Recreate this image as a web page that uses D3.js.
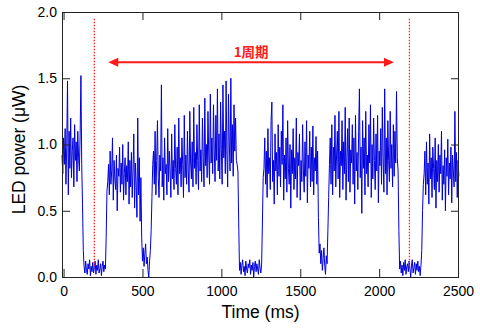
<!DOCTYPE html>
<html>
<head>
<meta charset="utf-8">
<script src="https://cdn.jsdelivr.net/npm/d3@7"></script>
<style>
  html, body { margin: 0; padding: 0; background: #fff; }
  svg { display: block; }
  text { font-family: "Liberation Sans", Arial, Helvetica, sans-serif; fill: #000; }
</style>
</head>
<body>
<svg id="chart" width="480" height="329"></svg>
<script>
// ---------- data ----------
const sampleStart = -10;  // ms, time of first sample
const sampleStep = 5;     // ms between samples
const power = [
  // on (-10 .. 115 ms)
  0.92, 0.78, 1.05, 0.85, 1.12, 0.70, 0.98, 1.48, 0.62, 1.10,
  0.82, 1.20, 0.75, 0.95, 1.05, 0.68, 1.15, 0.88, 1.02, 0.72,
  1.10, 0.90, 0.80, 1.08, 1.52, 0.85,
  0.55, 0.20,
  // off (130 .. 265 ms)
  0.08, 0.03, 0.12, 0.05, 0.02, 0.10, 0.06, 0.13, 0.01, 0.08, 0.04, 0.11, 0.03, 0.07,
  0.12, 0.02, 0.09, 0.05, 0.13, 0.03, 0.06, 0.10, 0.01, 0.08, 0.12, 0.04, 0.09, 0.06,
  0.30, 0.65,
  // on (280 .. 490 ms)
  0.72, 0.85, 0.62, 0.95, 0.70, 0.80, 1.05, 0.58, 0.88, 0.74,
  0.66, 0.92, 0.50, 0.82, 0.76, 0.98, 0.64, 0.86, 0.70, 1.00,
  0.58, 0.78, 0.90, 0.62, 0.84, 0.72, 1.02, 0.55, 0.88, 0.68,
  0.94, 0.60, 0.80, 1.08, 0.52, 0.86, 0.70, 0.45, 1.20, 0.62,
  0.90, 0.42, 0.75,
  // dip (495 .. 565 ms)
  0.30, 0.12, 0.22, 0.08, 0.18, 0.25, 0.10, 0.15, 0.05, 0.00, 0.12, 0.20, 0.35, 0.60, 0.85,
  // on (570 .. 1095 ms)
  0.95, 0.70, 1.10, 0.62, 0.88, 1.18, 0.75, 0.60, 0.92, 0.80, 1.45,
  0.68, 0.90, 0.58, 1.05, 0.78, 0.85, 0.62, 1.12, 0.72, 0.95,
  0.80, 0.60, 1.08, 0.74, 0.88, 0.66, 1.15, 0.82, 0.70, 0.98,
  0.62, 1.20, 0.78, 0.90, 0.68, 1.05, 0.85, 0.60, 1.22, 0.75,
  0.92, 0.70, 1.10, 0.80, 0.64, 1.25, 0.86, 0.74, 1.02, 0.68,
  1.28, 0.82, 0.94, 0.70, 1.15, 0.88, 0.66, 1.30, 0.80, 0.96,
  0.72, 1.20, 0.90, 0.68, 1.35, 0.84, 1.00, 0.75, 1.25, 0.92,
  0.70, 1.38, 0.86, 1.05, 0.78, 1.30, 0.95, 0.72, 1.22, 0.88,
  1.42, 0.80, 1.08, 0.74, 1.32, 0.96, 0.70, 1.45, 0.90, 1.10,
  0.78, 1.48, 0.92, 0.68, 1.38, 1.02, 0.80, 1.50, 0.86, 1.15,
  0.76, 1.30, 0.95, 1.20, 0.88,
  0.85, 0.80, 0.40,
  // off (1115 .. 1255 ms)
  0.05, 0.11, 0.02, 0.09, 0.13, 0.04, 0.08, 0.01, 0.12, 0.06, 0.03, 0.10, 0.07, 0.13, 0.02,
  0.09, 0.05, 0.11, 0.00, 0.08, 0.12, 0.04, 0.10, 0.06, 0.02, 0.13, 0.07, 0.03, 0.09,
  0.40, 0.75,
  // on (1270 .. 1610 ms)
  0.82, 1.05, 0.70, 0.95, 0.60, 1.12, 0.78, 0.90, 0.66, 1.18,
  1.32, 0.72, 0.88, 0.55, 1.08, 0.80, 0.94, 0.62, 1.15, 0.76,
  0.98, 0.68, 1.10, 0.85, 1.30, 0.58, 0.92, 0.74, 1.05, 0.64,
  1.18, 0.82, 0.70, 1.00, 0.52, 0.96, 0.78, 1.12, 0.66, 0.90,
  0.74, 1.20, 0.60, 0.94, 0.84, 1.08, 0.58, 0.88, 0.72, 1.15,
  0.80, 0.64, 1.02, 0.76, 1.18, 0.56, 0.92, 0.82, 1.10, 0.68,
  0.98, 0.72, 1.14, 0.62, 0.90, 0.80, 1.06, 0.70, 0.95,
  // dip (1615 .. 1680 ms)
  0.45, 0.18, 0.25, 0.10, 0.20, 0.05, 0.14, 0.22, 0.08, 0.02, 0.16, 0.10, 0.35, 0.60,
  // on (1685 .. 2115 ms)
  0.85, 1.05, 0.70, 1.15, 0.62, 0.98, 0.80, 1.22, 0.68, 0.92,
  1.10, 0.74, 1.25, 0.60, 0.95, 0.84, 1.18, 0.66, 1.02, 0.78,
  1.28, 0.58, 0.90, 1.12, 0.72, 1.20, 0.64, 0.96, 0.86, 1.15,
  0.70, 1.05, 0.55, 1.22, 0.80, 0.94, 0.66, 1.10, 1.42, 0.75,
  0.98, 0.48, 1.18, 0.82, 1.05, 0.62, 1.25, 0.78, 0.92, 0.68,
  1.15, 0.86, 1.30, 0.60, 1.00, 0.74, 1.20, 0.88, 0.66, 1.08,
  0.80, 1.22, 0.56, 0.95, 0.84, 1.12, 0.70, 1.28, 0.90, 0.64,
  1.42, 0.78, 1.05, 0.62, 1.18, 0.88, 0.72, 1.25, 0.82, 1.00,
  0.68, 1.15, 0.76, 1.10, 0.86, 1.40, 0.90,
  0.80, 0.35,
  // off (2130 .. 2265 ms)
  0.06, 0.12, 0.03, 0.09, 0.01, 0.11, 0.05, 0.13, 0.02, 0.08, 0.10, 0.04, 0.12, 0.06,
  0.00, 0.09, 0.13, 0.03, 0.07, 0.11, 0.02, 0.10, 0.05, 0.12, 0.04, 0.08, 0.01, 0.09,
  0.20, 0.50, 0.70,
  // on (2285 .. 2505 ms)
  0.78, 0.95, 0.62, 1.02, 0.70, 0.86, 0.55, 1.08, 0.74, 0.90,
  0.60, 0.98, 0.82, 0.66, 1.05, 0.52, 0.88, 0.72, 1.00, 0.64,
  0.92, 0.78, 1.10, 0.58, 0.84, 0.70, 0.96, 0.50, 0.90, 0.76,
  1.04, 0.62, 0.86, 0.74, 0.98, 0.56, 0.92, 0.80, 0.68, 1.25,
  0.72, 0.94, 0.60, 0.88, 0.76
];
const xTicks = [0, 500, 1000, 1500, 2000, 2500];
const yTicks = [0.0, 0.5, 1.0, 1.5, 2.0];
const yTickLabels = ["0.0", "0.5", "1.0", "1.5", "2.0"];
const xDomain = [-10, 2506];
const yDomain = [0, 2.0];
const periodMarkers = [195, 2192];          // ms, red dotted lines
const markerRange = [0.07, 1.95];           // µW, extent of dotted lines
const periodArrow = { from: 283, to: 2094, level: 1.62, label: "1周期" };
const xTitle = "Time (ms)";
const yTitle = "LED power (\u03bcW)";

// ---------- layout ----------
const svg = d3.select("#chart");
const m = { left: 62, right: 459, top: 12, bottom: 277 };

const x = d3.scaleLinear().domain(xDomain).range([m.left, m.right]);
const y = d3.scaleLinear().domain(yDomain).range([m.bottom, m.top]);

const samples = power.map((v, i) => ({ t: sampleStart + i * sampleStep, v }));

// signal
svg.append("path")
  .datum(samples)
  .attr("fill", "none")
  .attr("stroke", "#0000dd")
  .attr("stroke-width", 1)
  .attr("stroke-linejoin", "round")
  .attr("d", d3.line().x(d => x(d.t)).y(d => y(d.v)));

// red dotted period markers
svg.selectAll("line.marker")
  .data(periodMarkers)
  .join("line")
  .attr("class", "marker")
  .attr("x1", d => x(d)).attr("x2", d => x(d))
  .attr("y1", y(markerRange[1])).attr("y2", y(markerRange[0]))
  .attr("stroke", "#ff2020")
  .attr("stroke-width", 1.3)
  .attr("stroke-dasharray", "1.5,1.5");

// arrow
const ay = y(periodArrow.level);
const ax1 = x(periodArrow.from), ax2 = x(periodArrow.to);
const headL = 10, headH = 4.5;
svg.append("line")
  .attr("x1", ax1 + headL - 1).attr("x2", ax2 - headL + 1)
  .attr("y1", ay).attr("y2", ay)
  .attr("stroke", "#ff1a1a").attr("stroke-width", 2);
svg.append("path")
  .attr("d", `M${ax1},${ay} L${ax1 + headL},${ay - headH} L${ax1 + headL},${ay + headH} Z`)
  .attr("fill", "#ff1a1a");
svg.append("path")
  .attr("d", `M${ax2},${ay} L${ax2 - headL},${ay - headH} L${ax2 - headL},${ay + headH} Z`)
  .attr("fill", "#ff1a1a");
svg.append("text")
  .attr("x", (ax1 + ax2) / 2)
  .attr("y", ay - 5.5)
  .attr("text-anchor", "middle")
  .style("font-family", "'Noto Sans CJK JP', 'Noto Sans CJK SC', sans-serif")
  .style("font-size", "13.5px")
  .style("font-weight", "bold")
  .style("fill", "#ff1a1a")
  .text(periodArrow.label);

// axes
const axisColor = "#222";
const gB = svg.append("g").attr("transform", `translate(0,${m.bottom})`)
  .call(d3.axisBottom(x).tickValues(xTicks).tickSizeInner(-8).tickSizeOuter(0).tickPadding(9.5)
    .tickFormat(d3.format("d")));
const gT = svg.append("g").attr("transform", `translate(0,${m.top})`)
  .call(d3.axisTop(x).tickValues(xTicks).tickSizeInner(-8).tickSizeOuter(0).tickFormat(""));
const gL = svg.append("g").attr("transform", `translate(${m.left},0)`)
  .call(d3.axisLeft(y).tickValues(yTicks).tickSizeInner(-8).tickSizeOuter(0).tickPadding(5)
    .tickFormat((d, i) => yTickLabels[i]));
const gR = svg.append("g").attr("transform", `translate(${m.right},0)`)
  .call(d3.axisRight(y).tickValues(yTicks).tickSizeInner(-8).tickSizeOuter(0).tickFormat(""));

[gB, gT, gL, gR].forEach(g => {
  g.select(".domain").remove();
  g.selectAll(".tick line").attr("stroke", axisColor).attr("stroke-width", 1);
  g.selectAll("text")
    .style("font-family", "'Liberation Sans', Arial, sans-serif")
    .style("font-size", "14px")
    .attr("fill", "#000");
});

// frame
svg.append("rect")
  .attr("x", m.left + 0.5).attr("y", m.top + 0.5)
  .attr("width", m.right - m.left - 1).attr("height", m.bottom - m.top)
  .attr("fill", "none").attr("stroke", axisColor).attr("stroke-width", 1);

// titles
svg.append("text")
  .attr("x", (m.left + m.right) / 2)
  .attr("y", 318)
  .attr("text-anchor", "middle")
  .style("font-size", "17.5px")
  .text(xTitle);
svg.append("text")
  .attr("transform", `translate(25,${(m.top + m.bottom) / 2 + 5}) rotate(-90)`)
  .attr("text-anchor", "middle")
  .style("font-size", "17.5px")
  .text(yTitle);
</script>
</body>
</html>
